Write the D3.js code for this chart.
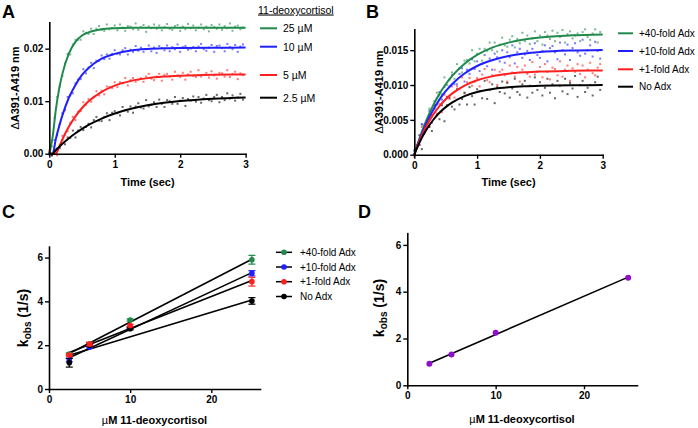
<!DOCTYPE html>
<html><head><meta charset="utf-8">
<script src="https://cdn.jsdelivr.net/npm/d3@7"></script>
<style>body{margin:0;background:#fff}svg{display:block}</style>
</head><body><svg id="c" width="698" height="428"></svg>
<script>
// ---------------- DATA ----------------
const timeStep = 0.04; // seconds between recorded points (raw traces in ΔA x1000)
const labelsA = ["25 µM","10 µM","5 µM","2.5 µM"];
const labelsB = ["+40-fold Adx","+10-fold Adx","+1-fold Adx","No Adx"];
const colors = ["#1f8a4c","#1f1fff","#ff1f1f","#000000"];

// Panel A raw traces (ΔA x1000)
const rawA25 = [0.2,1.4,6.8,10.8,12.8,14.8,17.2,19.0,18.9,20.8,21.7,21.7,21.7,23.3,23.0,22.8,23.8,22.8,23.8,24.3,23.6,23.4,24.6,23.7,23.9,24.4,23.5,24.6,24.0,23.4,24.3,24.2,23.7,24.8,23.6,24.1,24.5,23.2,24.2,23.9,24.6,23.8,24.4,23.5,24.1,24.7,23.8,23.6,24.3,24.5,23.4,24.2,23.7,24.7,23.9,24.4,23.5,24.0,24.6,23.7,24.2,23.3,24.5,24.1,23.8,24.6,23.6,24.3,23.9,24.8,23.4,24.2,24.4,23.7,24.0];
const rawA10 = [-0.2,-0.3,2.6,3.5,5.7,7.7,8.3,10.8,11.1,11.5,13.4,14.1,14.2,16.1,15.3,16.4,17.3,16.3,17.7,17.7,18.7,18.0,18.9,18.1,19.0,19.7,19.0,18.9,19.7,20.1,18.9,19.8,19.4,20.5,19.6,20.2,19.4,19.9,20.6,19.5,20.2,19.2,20.5,20.1,19.7,20.6,19.5,20.3,19.9,20.8,19.4,20.3,20.5,19.8,20.0,20.3,19.5,20.4,20.9,19.9,19.6,20.2,20.7,19.4,20.5,20.6,20.1,19.5,20.9,20.3,19.9,20.7,19.4,20.4,20.8];
const rawA5 = [0.6,-0.3,0.4,-0.3,1.7,3.4,3.6,4.3,5.9,7.0,6.4,8.0,8.1,9.8,9.3,10.4,9.9,10.8,11.9,11.1,12.0,11.3,12.8,12.7,12.5,13.6,12.7,13.6,13.4,14.4,13.0,14.0,14.4,13.7,14.0,14.4,13.7,14.7,15.2,14.3,14.0,14.7,15.2,13.9,15.0,15.2,14.7,14.1,15.6,14.9,14.6,15.4,14.1,15.1,15.6,14.8,14.6,15.9,14.7,15.0,15.4,14.5,15.7,14.9,14.3,15.4,15.3,14.7,15.9,14.6,15.2,15.6,14.2,15.3,15.0];
const rawA2 = [0.2,-0.3,0.9,1.0,1.1,2.6,1.8,3.1,3.0,4.4,3.1,4.4,5.1,4.5,5.1,5.7,5.0,6.4,7.0,6.3,6.2,7.0,7.7,6.4,7.8,8.1,7.7,7.3,8.9,8.3,8.0,9.0,7.8,9.0,9.6,8.8,8.6,10.2,9.0,9.3,9.8,8.9,10.3,9.5,8.9,10.2,10.0,9.5,10.8,9.5,10.1,10.6,9.1,10.4,10.1,10.9,9.9,10.8,9.7,10.5,11.2,10.2,10.0,10.8,11.2,9.8,10.8,10.2,11.5,10.5,11.1,10.1,10.7,11.4,10.3];

// Panel B raw traces (ΔA x1000)
const rawB40 = [0.6,1.0,1.4,4.3,4.3,4.7,6.6,5.7,7.7,8.9,8.5,8.7,11.1,10.0,10.8,11.8,10.9,13.0,12.4,11.8,13.5,13.6,13.1,15.0,13.4,14.5,15.2,13.5,15.2,14.9,16.1,15.0,16.1,14.8,15.8,16.8,15.7,15.5,16.5,17.0,15.4,16.6,16.0,17.5,16.3,17.1,15.9,16.7,17.7,16.3,17.1,15.8,17.6,17.1,16.6,17.8,16.3,17.5,16.9,17.9,16.1,17.3,17.7,16.7,17.1,17.4,16.3,17.6,18.0,16.9,16.5,17.4,18.0,16.1,17.6];
const rawB10 = [0.6,1.4,1.4,4.4,3.0,4.9,6.3,4.6,7.1,7.2,9.0,7.9,9.7,8.3,9.8,11.4,10.1,10.1,11.6,12.4,10.5,12.2,11.6,13.7,12.3,13.4,12.0,13.05,14.3,12.7,13.8,12.2,14.5,14.0,13.4,15.0,13.2,14.7,14.0,15.7,13.1,14.7,15.2,13.9,14.4,14.9,13.6,15.2,16.0,14.3,13.9,14.9,15.7,13.4,15.3,15.6,14.7,13.7,16.1,15.0,14.4,15.8,13.6,15.3,16.0,14.7,14.2,16.5,14.5,15.0,15.7,14.1,16.2,14.9,13.8];
const rawB1 = [-0.3,1.3,1.4,4.0,3.3,4.9,4.0,5.5,7.1,5.9,7.3,6.1,8.6,8.3,8.0,9.8,8.2,9.8,9.4,11.1,8.8,10.4,11.0,9.9,10.5,11.0,9.8,11.5,12.3,10.7,10.4,11.4,12.2,10.0,11.9,12.2,11.4,10.5,12.8,11.8,11.2,12.6,10.5,12.2,12.8,11.6,11.2,13.3,11.5,11.9,12.6,11.1,13.0,11.9,10.8,12.5,12.3,11.4,13.4,11.2,12.2,12.8,10.6,12.4,11.9,13.0,11.6,12.8,11.1,12.2,13.2,11.7,11.4,12.5,13.0];
const rawBNo = [0.1,1.1,2.8,0.8,3.6,4.6,4.0,3.4,6.6,5.7,5.1,7.1,4.8,7.1,8.2,6.9,6.5,9.4,7.2,8.0,8.9,7.2,9.7,8.4,7.2,9.4,9.1,8.1,10.6,8.0,9.3,10.1,7.4,9.7,9.0,10.5,8.8,10.3,8.2,9.5,10.9,9.0,8.6,10.1,10.6,8.2,9.9,8.9,11.1,9.3,10.4,8.5,9.6,10.9,8.9,10.1,8.1,10.6,9.9,9.1,10.9,8.7,10.3,9.5,11.3,8.3,10.0,10.6,9.0,9.6,10.0,8.5,10.4,11.2,9.3];

// Fitted curves read at these times (ΔA x1000)
const fitTimes = [0,0.05,0.1,0.15,0.2,0.3,0.4,0.5,0.6,0.8,1.0,1.25,1.5,1.75,2.0,2.5,3.0];
const fitA25 = [0,3.1,8.4,12.3,15.2,19.1,21.3,22.5,23.1,23.7,23.9,24.0,24.0,24.0,24.0,24.0,24.0];
const fitA10 = [0,0,2.8,5.2,7.3,10.7,13.1,15.0,16.3,18.1,19.0,19.65,19.94,20.08,20.14,20.19,20.2];
const fitA5 = [0,0,0,1.27,2.72,5.17,7.12,8.7,9.97,11.79,12.97,13.87,14.39,14.69,14.86,15.03,15.08];
const fitA2 = [0,0,0.67,1.29,1.88,2.95,3.89,4.73,5.47,6.69,7.65,8.55,9.21,9.69,10.04,10.48,10.72];
const fitB40 = [0,1.45,2.78,4.01,5.12,7.08,8.73,10.11,11.28,13.07,14.33,15.41,16.09,16.54,16.83,17.13,17.26];
const fitB10 = [0,1.33,2.55,3.66,4.67,6.43,7.9,9.11,10.12,11.66,12.73,13.6,14.16,14.51,14.73,14.95,15.04];
const fitB1 = [0,1.23,2.34,3.34,4.23,5.75,6.98,7.97,8.77,9.93,10.69,11.28,11.62,11.82,11.94,12.04,12.08];
const fitBNo = [0,1.09,2.06,2.92,3.69,4.98,6.02,6.83,7.48,8.41,9.0,9.44,9.68,9.82,9.9,9.97,9.99];

// Panel C
const conc = [2.5,5,10,25];
const kobs40 = [1.6,2.05,3.15,5.9];   const err40 = [0.05,0.08,0.05,0.2];
const kobs10 = [1.32,1.92,2.8,5.28];  const err10 = [0.08,0.05,0.05,0.12];
const kobs1  = [1.55,2.05,2.9,4.9];   const err1  = [0.05,0.08,0.05,0.2];
const kobsNo = [1.2,2.0,2.75,4.02];   const errNo = [0.2,0.05,0.05,0.15];
const slopeC = [0.1914,0.1727,0.146,0.112];
const interceptC = [1.141,0.995,1.298,1.26];
// Panel D
const kobsD = [0.92,1.32,2.25,4.6];
const slopeD = 0.1635, interceptD = 0.535;
const purple = "#8e10c8";

// Ticks
const ticksTime = [0,1,2,3];
const ticksAY = [0,0.01,0.02];
const ticksBY = [0,0.005,0.01,0.015];
const ticksConc = [0,10,20];
const ticksK = [0,2,4,6];

// ---------------- DRAW ----------------
const FONT = '"Liberation Sans", Arial, Helvetica, sans-serif';
const svg = d3.select("#c").attr("font-family", FONT);

function axes(x, y, xt, yt, yfmt) {
  const ax = svg.append("g").attr("transform", `translate(0,${y.range()[0]})`)
    .call(d3.axisBottom(x).tickValues(xt).tickSize(4).tickSizeOuter(0).tickPadding(3).tickFormat(d3.format("d")));
  const ay = svg.append("g").attr("transform", `translate(${x.range()[0]},0)`)
    .call(d3.axisLeft(y).tickValues(yt).tickSize(4).tickSizeOuter(0).tickPadding(2).tickFormat(yfmt));
  [ax, ay].forEach(a => {
    a.select(".domain").attr("stroke", "#000").attr("stroke-width", 1.6).attr("stroke-linecap","square");
    a.selectAll(".tick line").attr("stroke", "#000").attr("stroke-width", 1.4);
    a.selectAll("text").attr("font-family", FONT).attr("font-weight", "bold").attr("font-size", 10).attr("fill", "#000");
  });
}
function ylabel(cx, cy, size, build) {
  const t = svg.append("text").attr("transform", `translate(${cx},${cy}) rotate(-90)`)
    .attr("text-anchor", "middle").attr("font-weight", "bold").attr("font-size", size);
  build(t);
}
function xlabel(cx, cy, build) {
  const t = svg.append("text").attr("x", cx).attr("y", cy).attr("text-anchor", "middle")
    .attr("font-weight", "bold").attr("font-size", 11);
  build(t);
}
function panelLabel(txt, x, y) {
  svg.append("text").attr("x", x).attr("y", y).attr("font-weight", "bold").attr("font-size", 18).text(txt);
}
function dots(x, y, arr, color) {
  svg.append("g").selectAll("rect").data(arr).enter().append("rect")
    .attr("x", (d, i) => x(i * timeStep) - 1).attr("y", d => y(d / 1000) - 1)
    .attr("width", 2).attr("height", 2).attr("fill", color).attr("opacity", 0.6);
}
function fit(x, y, arr, color) {
  const line = d3.line().x((d, i) => x(fitTimes[i])).y(d => y(d / 1000)).curve(d3.curveMonotoneX);
  svg.append("path").attr("d", line(arr)).attr("fill", "none").attr("stroke", color).attr("stroke-width", 2);
}
function kobsLabel(t) {
  t.append("tspan").text("k");
  t.append("tspan").attr("dy", 3).attr("font-size", 10).text("obs");
  t.append("tspan").attr("dy", -3).text(" (1/s)");
}

// ---- Panel A ----
{
  const x = d3.scaleLinear().domain([0, 3]).range([49.3, 245.6]);
  const y = d3.scaleLinear().domain([0, 0.025]).range([153.7, 22.4]);
  [rawA25, rawA10, rawA5, rawA2].forEach((r, i) => dots(x, y, r, colors[i]));
  [fitA25, fitA10, fitA5, fitA2].forEach((f, i) => fit(x, y, f, colors[i]));
  axes(x, y, ticksTime, ticksAY, d3.format(".2f"));
  ylabel(19, 88, 11, t => { t.append("tspan").attr("font-weight", "normal").text("Δ"); t.append("tspan").text("A391-A419 nm"); });
  xlabel(147.5, 186, t => t.text("Time (sec)"));
  panelLabel("A", 2, 18);
  svg.append("text").attr("x", 258).attr("y", 13.5).attr("font-size", 10.5)
    .attr("text-decoration", "underline").text("11-deoxycortisol");
  const ly = [28.3, 46.7, 75, 97.7];
  labelsA.forEach((l, i) => {
    svg.append("line").attr("x1", 260).attr("x2", 277).attr("y1", ly[i]).attr("y2", ly[i]).attr("stroke", colors[i]).attr("stroke-width", 2);
    svg.append("text").attr("x", 283).attr("y", ly[i] + 3.8).attr("font-size", 10.5).text(l);
  });
}
// ---- Panel B ----
{
  const x = d3.scaleLinear().domain([0, 3]).range([414.3, 602.7]);
  const y = d3.scaleLinear().domain([0, 0.018]).range([154.7, 29.3]);
  [rawB40, rawB10, rawB1, rawBNo].forEach((r, i) => dots(x, y, r, colors[i]));
  [fitB40, fitB10, fitB1, fitBNo].forEach((f, i) => fit(x, y, f, colors[i]));
  axes(x, y, ticksTime, ticksBY, d3.format(".3f"));
  ylabel(383, 92, 11, t => { t.append("tspan").attr("font-weight", "normal").text("Δ"); t.append("tspan").text("A391-A419 nm"); });
  xlabel(508.5, 186, t => t.text("Time (sec)"));
  panelLabel("B", 366, 18);
  const ly = [33.3, 51, 69.3, 86.7];
  labelsB.forEach((l, i) => {
    svg.append("line").attr("x1", 618).attr("x2", 633).attr("y1", ly[i]).attr("y2", ly[i]).attr("stroke", colors[i]).attr("stroke-width", 2);
    svg.append("text").attr("x", 639).attr("y", ly[i] + 3.6).attr("font-size", 10).text(l);
  });
}
// ---- Panel C ----
{
  const x = d3.scaleLinear().domain([0, 26]).range([49, 260]);
  const y = d3.scaleLinear().domain([0, 6.5]).range([389, 246.6]);
  slopeC.forEach((s, i) => {
    svg.append("line").attr("x1", x(conc[0])).attr("x2", x(conc[3]))
      .attr("y1", y(interceptC[i] + s * conc[0])).attr("y2", y(interceptC[i] + s * conc[3]))
      .attr("stroke", "#000").attr("stroke-width", 1.6);
  });
  const ks = [kobs40, kobs10, kobsNo, kobs1], es = [err40, err10, errNo, err1], cs = [colors[0], colors[1], colors[3], colors[2]];
  ks.forEach((k, j) => {
    const g = svg.append("g");
    k.forEach((v, i) => {
      const e = es[j][i], cx = x(conc[i]);
      g.append("line").attr("x1", cx).attr("x2", cx).attr("y1", y(v - e)).attr("y2", y(v + e)).attr("stroke", cs[j]).attr("stroke-width", 1.2);
      [v - e, v + e].forEach(w => g.append("line").attr("x1", cx - 3.5).attr("x2", cx + 3.5).attr("y1", y(w)).attr("y2", y(w)).attr("stroke", cs[j]).attr("stroke-width", 1.2));
      g.append("circle").attr("cx", cx).attr("cy", y(v)).attr("r", 2.8).attr("fill", cs[j]);
    });
  });
  axes(x, y, ticksConc, ticksK, d3.format("d"));
  ylabel(28, 318, 14, kobsLabel);
  xlabel(154.5, 424, t => { t.append("tspan").attr("font-weight", "normal").text("µ"); t.append("tspan").text("M 11-deoxycortisol"); });
  panelLabel("C", 2, 218);
  const ly = [252.3, 267, 281.7, 296.5];
  labelsB.forEach((l, i) => {
    svg.append("line").attr("x1", 276).attr("x2", 292).attr("y1", ly[i]).attr("y2", ly[i]).attr("stroke", "#000").attr("stroke-width", 1.5);
    svg.append("circle").attr("cx", 284).attr("cy", ly[i]).attr("r", 2.8).attr("fill", colors[i]);
    svg.append("text").attr("x", 300).attr("y", ly[i] + 3.6).attr("font-size", 10).text(l);
  });
}
// ---- Panel D ----
{
  const x = d3.scaleLinear().domain([0, 26]).range([407.3, 637]);
  const y = d3.scaleLinear().domain([0, 6.5]).range([385.3, 233.2]);
  svg.append("line").attr("x1", x(conc[0])).attr("x2", x(conc[3]))
    .attr("y1", y(interceptD + slopeD * conc[0])).attr("y2", y(interceptD + slopeD * conc[3]))
    .attr("stroke", "#000").attr("stroke-width", 1.6);
  kobsD.forEach((v, i) => svg.append("circle").attr("cx", x(conc[i])).attr("cy", y(v)).attr("r", 3).attr("fill", purple));
  axes(x, y, ticksConc, ticksK, d3.format("d"));
  ylabel(384, 308, 14, kobsLabel);
  xlabel(522, 423, t => { t.append("tspan").attr("font-weight", "normal").text("µ"); t.append("tspan").text("M 11-deoxycortisol"); });
  panelLabel("D", 358, 218);
}
</script></body></html>
